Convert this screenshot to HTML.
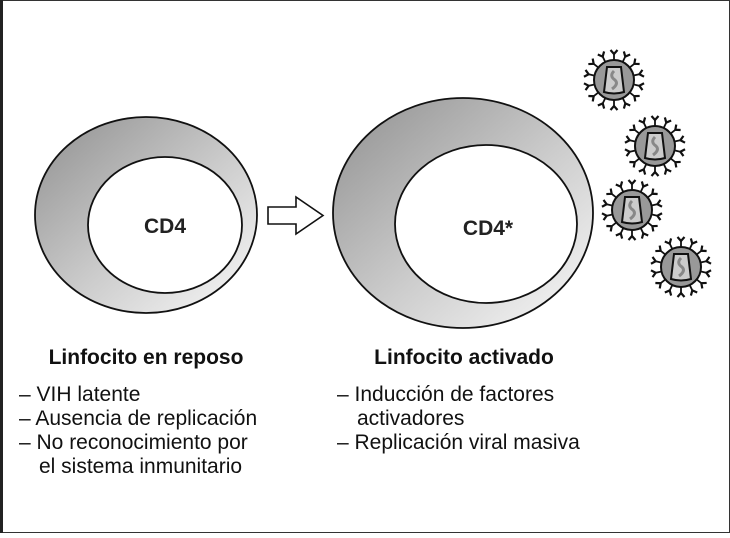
<!DOCTYPE html>
<html><head><meta charset="utf-8"><style>
body{margin:0;width:730px;height:533px;overflow:hidden;background:#fff}
</style></head><body>
<svg width="730" height="533" viewBox="0 0 730 533" xmlns="http://www.w3.org/2000/svg" font-family="Liberation Sans, Arial, sans-serif">
<defs>
<linearGradient id="g" x1="0" y1="0" x2="1" y2="1">
<stop offset="0" stop-color="#8f8f8f"/><stop offset="0.55" stop-color="#cdcdcd"/><stop offset="1" stop-color="#fafafa"/>
</linearGradient>
<g id="v">
<g stroke="#111" stroke-width="1.8" fill="#111">
<g id="sp"><line x1="0" y1="-20" x2="0" y2="-27"/><path d="M-3.5,-30 L0,-26 L3.5,-30" fill="none" stroke-width="2.2"/></g>
<use href="#sp" transform="rotate(25.7)"/><use href="#sp" transform="rotate(51.4)"/><use href="#sp" transform="rotate(77.1)"/>
<use href="#sp" transform="rotate(102.8)"/><use href="#sp" transform="rotate(128.5)"/><use href="#sp" transform="rotate(154.2)"/>
<use href="#sp" transform="rotate(180)"/><use href="#sp" transform="rotate(205.7)"/><use href="#sp" transform="rotate(231.4)"/>
<use href="#sp" transform="rotate(257.1)"/><use href="#sp" transform="rotate(282.8)"/><use href="#sp" transform="rotate(308.5)"/>
<use href="#sp" transform="rotate(334.2)"/>
</g>
<circle r="20" fill="#999" stroke="#111" stroke-width="2"/>
<path d="M-7,-13 L7,-13 L10,12 Q0,15 -10,12 Z" fill="#ccc" stroke="#111" stroke-width="2"/>
<path d="M0,-9 Q-5,-4 1,0 Q5,4 -2,9" fill="none" stroke="#888" stroke-width="3"/>
</g>
</defs>
<rect x="0.5" y="0.5" width="729" height="532" fill="none" stroke="#333" stroke-width="1"/>
<rect x="0" y="0" width="3" height="533" fill="#222"/>

<ellipse cx="146" cy="215" rx="111" ry="98" fill="url(#g)" stroke="#111" stroke-width="1.8"/>
<ellipse cx="165" cy="225" rx="77" ry="68" fill="#fff" stroke="#111" stroke-width="1.8"/>
<text x="165" y="233" font-size="21" font-weight="bold" text-anchor="middle" fill="#222">CD4</text>

<path d="M268,207 L296,207 L296,197 L323,215.5 L296,234 L296,224 L268,224 Z" fill="#fff" stroke="#111" stroke-width="1.6"/>

<ellipse cx="463" cy="213" rx="130" ry="115" fill="url(#g)" stroke="#111" stroke-width="1.8"/>
<ellipse cx="486" cy="224" rx="91" ry="79" fill="#fff" stroke="#111" stroke-width="1.8"/>
<text x="488" y="235" font-size="21" font-weight="bold" text-anchor="middle" fill="#222">CD4*</text>

<use href="#v" x="614" y="80"/>
<use href="#v" x="655" y="146"/>
<use href="#v" x="632" y="210"/>
<use href="#v" x="681" y="267"/>

<g font-size="21" fill="#111">
<text x="146" y="364" font-weight="bold" text-anchor="middle">Linfocito en reposo</text>
<text x="19" y="401">– VIH latente</text>
<text x="19" y="425">– Ausencia de replicación</text>
<text x="19" y="449">– No reconocimiento por</text>
<text x="39" y="473">el sistema inmunitario</text>
<text x="464" y="364" font-weight="bold" text-anchor="middle">Linfocito activado</text>
<text x="337" y="401">– Inducción de factores</text>
<text x="357" y="425">activadores</text>
<text x="337" y="449">– Replicación viral masiva</text>
</g>
</svg>
</body></html>
